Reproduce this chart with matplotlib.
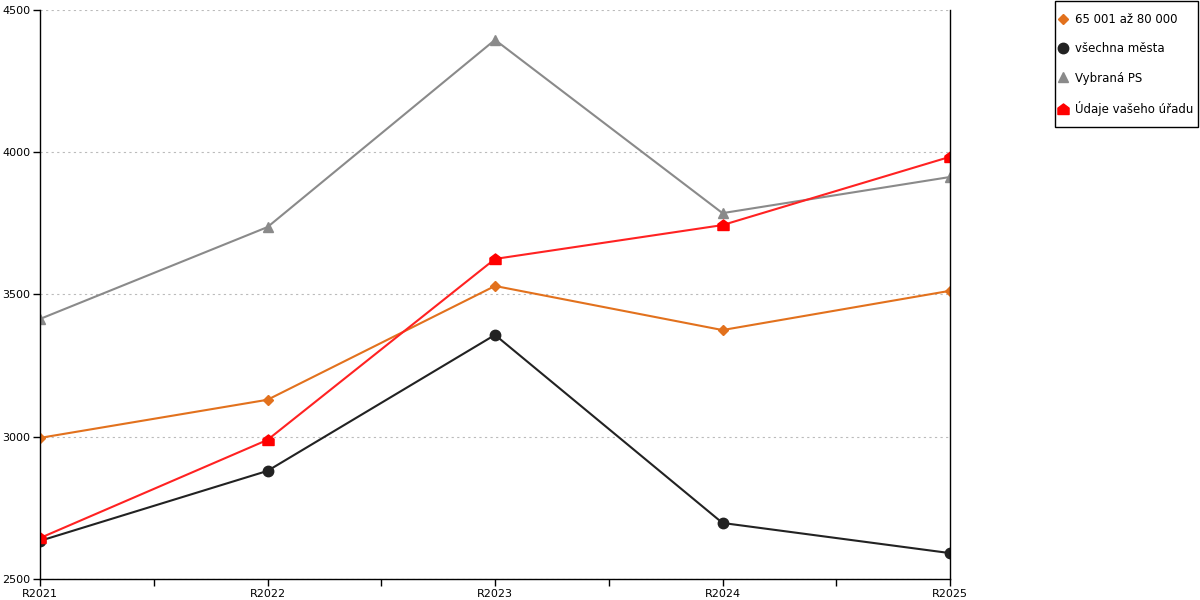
import matplotlib.pyplot as plt
from matplotlib.path import Path
from matplotlib.patches import Rectangle

# Data
years = ['R2021', 'R2022', 'R2023', 'R2024', 'R2025']
mesta_65_80 = [2996, 3130, 3530, 3375, 3513]
vsechna_mesta = [2634, 2880, 3358, 2697, 2591]
vybrana_ps = [3414, 3737, 4395, 3786, 3913]
vas_urad = [2644, 2989, 3625, 3744, 3984]

plt.rcParams['font.family'] = ['DejaVu Sans']

# house-shaped marker for the office series
house = Path([(-1, -0.9), (1, -0.9), (1, 0.25), (0, 1), (-1, 0.25), (-1, -0.9)],
             [Path.MOVETO, Path.LINETO, Path.LINETO, Path.LINETO, Path.LINETO, Path.CLOSEPOLY])

fig = plt.figure(figsize=(12, 6), dpi=100)
ax = fig.add_axes([40 / 1200, 1 - 579 / 600, 910 / 1200, 569 / 600])

x = list(range(len(years)))
ax.plot(x, mesta_65_80, color='#E2711D', lw=1.5, marker='D', ms=5.5, label='65 001 až 80 000')
ax.plot(x, vsechna_mesta, color='#222222', lw=1.5, marker='o', ms=7.5, label='všechna města')
ax.plot(x, vybrana_ps, color='#8A8A8A', lw=1.5, marker='^', ms=7.5, label='Vybraná PS')
ax.plot(x, vas_urad, color='#FF2222', lw=1.5, marker=house, ms=8,
        markerfacecolor='#FF0000', markeredgecolor='#FF0000', label='Údaje vašeho úřadu')

ax.set_xlim(0, 4)
ax.set_ylim(2500, 4500)
ax.set_xticks(x)
ax.set_xticklabels(years)
ax.set_xticks([0.5, 1.5, 2.5, 3.5], minor=True)
ax.set_yticks([2500, 3000, 3500, 4000, 4500])
ax.tick_params(axis='both', labelsize=8, length=5, width=1, color='black', pad=2)
ax.tick_params(axis='x', which='minor', length=5, width=1)

ax.grid(axis='y', linestyle=(0, (2, 3)), color='#BBBBBB', lw=0.8)
ax.set_axisbelow(True)
ax.spines['top'].set_visible(False)
for s in ['left', 'bottom', 'right']:
    ax.spines[s].set_color('black')
    ax.spines[s].set_linewidth(1)

# legend box drawn separately so the padding can match
fig.patches.append(Rectangle((1055 / 1200, 1 - 127 / 600), 143 / 1200, 126 / 600,
                             transform=fig.transFigure, fill=False, edgecolor='black', lw=1))

handles, labels = ax.get_legend_handles_labels()
leg = fig.legend(handles, labels, loc='upper left', bbox_to_anchor=(1058 / 1200, 1 - 13 / 600),
                 fontsize=8.5, frameon=False, borderpad=0, borderaxespad=0,
                 labelspacing=1.38, handlelength=0.8, handletextpad=0.6)
for line in leg.get_lines():
    line.set_linestyle('none')

fig.savefig('out.png', dpi=100)
